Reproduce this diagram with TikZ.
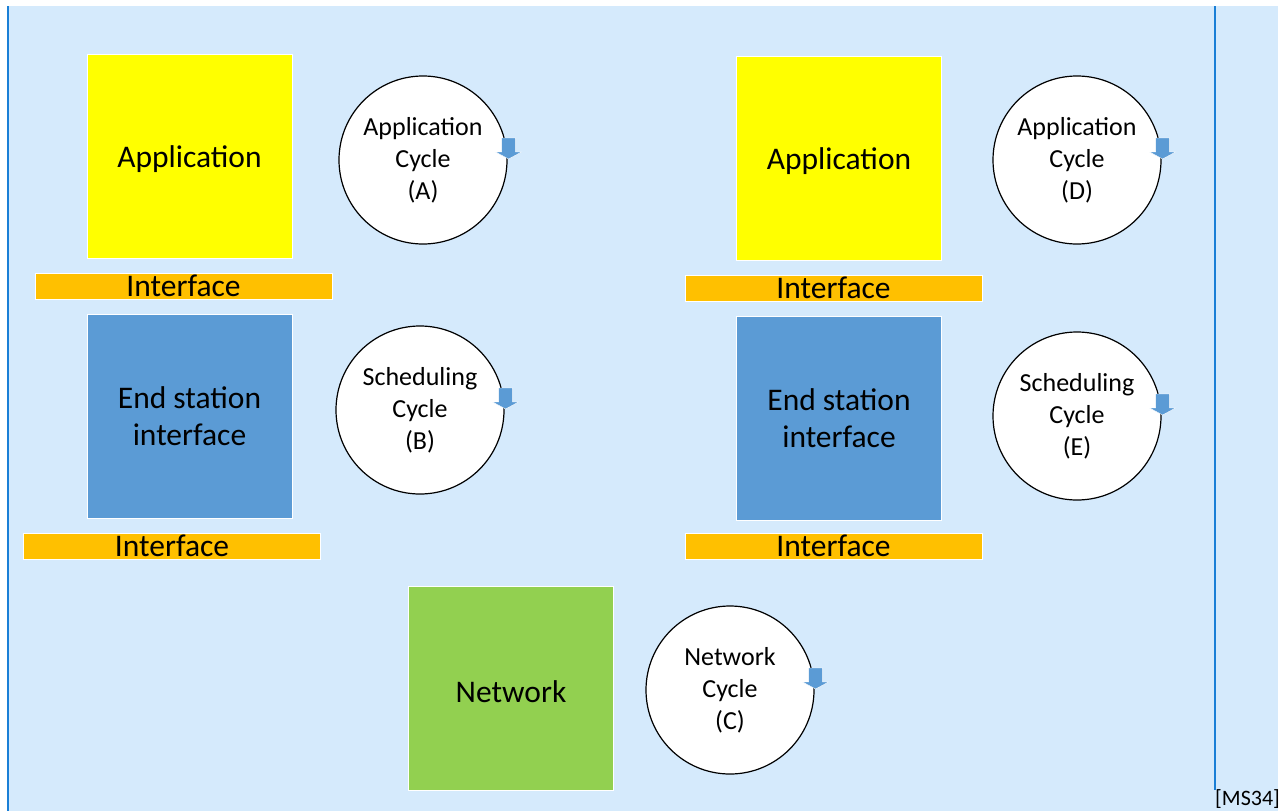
\documentclass[tikz,border=0pt]{standalone}
\usepackage{fontspec}
\setmainfont{Carlito}
\definecolor{bgblue}{HTML}{D5EAFC}
\definecolor{edgeblue}{HTML}{1A7FD6}
\definecolor{appyellow}{HTML}{FFFF00}
\definecolor{ifaceorange}{HTML}{FFC000}
\definecolor{stationblue}{HTML}{5B9BD5}
\definecolor{netgreen}{HTML}{92D050}
% lower a single-line label without changing its box size
\newcommand{\lowered}[1]{\raisebox{-3.5pt}[\height][\depth]{#1}}
\begin{document}
\begin{tikzpicture}[x=1pt,y=-1pt,
  block/.style={draw=white, line width=0.8pt, minimum width=205, minimum height=204,
    inner sep=0pt, align=center, font=\fontsize{31.5}{37}\selectfont},
  iface/.style={draw=white, line width=0.8pt, fill=ifaceorange, minimum width=297,
    minimum height=26, inner sep=0pt, font=\fontsize{31.5}{37}\selectfont},
  cycle/.style={circle, draw=black, line width=1.2pt, fill=white, minimum size=168,
    inner sep=0pt, align=center, font=\fontsize{26}{32}\selectfont},
  cyclearrow/.pic={
    \fill[stationblue, draw=white, line width=0.4pt]
      (-7,-21) -- (7,-21) -- (7,-7) -- (13,-7) -- (0,0) -- (-13,-7) -- (-7,-7) -- cycle;
  }]
\useasboundingbox (0,0) rectangle (1284,811);
% backdrop and frame lines
\fill[bgblue] (8,6) rectangle (1278,811);
\draw[edgeblue, line width=2pt] (8,6) -- (8,811);
\draw[edgeblue, line width=1.5pt] (1215,6) -- (1215,790);
\node[anchor=base west, inner sep=0pt, font=\fontsize{22}{24}\selectfont] (ref) at (1215,805) {[MS34]};

% left stack
\node[block, fill=appyellow] (appL) at (189.5,156) {\lowered{Application}};
\node[iface] (ifL1) at (183.5,286) {Interface};
\node[block, fill=stationblue] (esL) at (189.5,416) {End station\\interface};
\node[iface] (ifL2) at (172,546) {Interface};

% right stack
\node[block, fill=appyellow] (appR) at (839,158) {\lowered{Application}};
\node[iface] (ifR1) at (833.5,288) {Interface};
\node[block, fill=stationblue] (esR) at (839,418) {End station\\interface};
\node[iface] (ifR2) at (833.5,546) {Interface};

% network
\node[block, fill=netgreen] (net) at (511,688) {\lowered{Network}};

% cycles
\node[cycle] (cA) at (423,160) {Application\\Cycle\\(A)};
\node[cycle] (cB) at (420,410) {Scheduling\\Cycle\\(B)};
\node[cycle] (cD) at (1077,160) {Application\\Cycle\\(D)};
\node[cycle] (cE) at (1077,416) {Scheduling\\Cycle\\(E)};
\node[cycle] (cC) at (730,690) {Network\\Cycle\\(C)};

\foreach \c in {cA,cB,cC,cD,cE}
  \pic at ([shift={(1,-1)}]\c.east) {cyclearrow};
\end{tikzpicture}
\end{document}
